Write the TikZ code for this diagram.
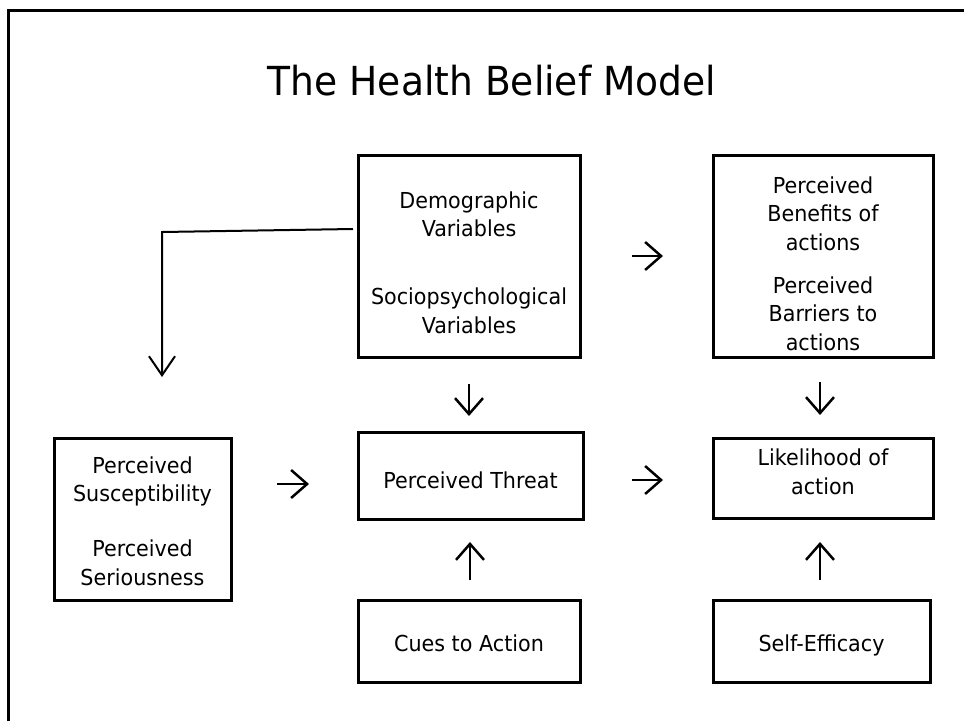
\documentclass[tikz,border=0pt]{standalone}
\usepackage{fontspec}
\setmainfont{DejaVu Sans}[FakeStretch=0.94]
\usetikzlibrary{arrows.meta,calc}
\begin{document}
\begin{tikzpicture}[x=1pt,y=-1pt,
  box/.style={draw, line width=3pt, inner sep=0pt, outer sep=0pt, align=center,
    font=\fontsize{22}{28.5}\selectfont, text height=0pt, text depth=0pt},
  garrow/.style={line width=2.5pt, -{Straight Barb[length=16pt,width=28pt]}},
  lline/.style={line width=2pt, -{Straight Barb[length=19pt,width=26pt]}},
  frame/.style={line width=3pt}]
\useasboundingbox (0,0) rectangle (964,721);
\draw[frame] (8,721) -- (8,10.7) -- (964,10.7);

\node[font=\fontsize{40}{48}\selectfont, anchor=base] (title) at (492,95) {The Health Belief Model};

\node[box, minimum width=222pt, minimum height=202pt, text height=154pt] (demo) at (469,256)
  {Demographic\\Variables\\[39.5pt]Sociopsychological\\Variables};
\node[box, minimum width=220pt, minimum height=202pt, text height=188pt] (ben) at (823,256)
  {Perceived\\Benefits of\\actions\\[14.5pt]Perceived\\Barriers to\\actions};
\node[box, minimum width=177pt, minimum height=162pt, text height=132pt] (sus) at (142.5,519)
  {Perceived\\Susceptibility\\[26.5pt]Perceived\\Seriousness};
\node[box, minimum width=225pt, minimum height=87pt, text height=25pt] (thr) at (470.5,475.5)
  {Perceived Threat};
\node[box, minimum width=220pt, minimum height=80pt, text height=32pt] (lik) at (823,478)
  {Likelihood of\\action};
\node[box, minimum width=222pt, minimum height=82pt, text height=20pt] (cues) at (469,641)
  {Cues to Action};
\node[box, minimum width=217pt, minimum height=82pt, text height=20pt] (self) at (821.5,641)
  {Self-Efficacy};

\coordinate (bend) at (162,232);
\draw[lline, shorten >=61pt] ([xshift=-5pt,yshift=27pt]demo.west) -- (bend) -- (bend |- sus.north);

\draw[garrow, shorten <=52pt, shorten >=50pt] (demo.east) -- (ben.west);
\draw[garrow, shorten <=46pt, shorten >=49pt] ([yshift=35pt]sus.east) -- ([yshift=-8.5pt]thr.west);
\draw[garrow, shorten <=49pt, shorten >=50pt] ([yshift=-4.5pt]thr.east) -- ([yshift=-2pt]lik.west);
\draw[garrow, shorten <=27pt, shorten >=16pt] (demo.south) -- (demo.south |- thr.north);
\draw[garrow, shorten <=25pt, shorten >=23pt] ([xshift=-3pt]ben.south) -- ([xshift=-3pt]ben.south |- lik.north);
\draw[garrow, shorten <=20pt, shorten >=23pt] ([xshift=1pt]cues.north) -- ([xshift=1pt]cues.north |- thr.south);
\draw[garrow, shorten <=20pt, shorten >=24pt] ([xshift=-1.5pt]self.north) -- ([xshift=-1.5pt]self.north |- lik.south);
\end{tikzpicture}
\end{document}
